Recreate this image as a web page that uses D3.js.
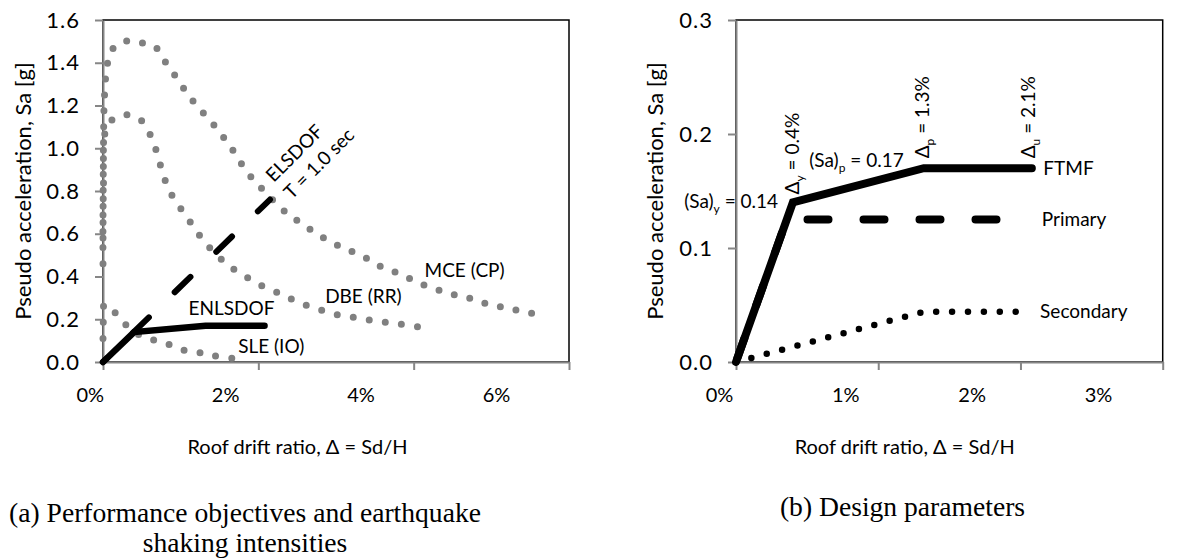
<!DOCTYPE html>
<html>
<head>
<meta charset="utf-8">
<script src="https://cdn.jsdelivr.net/npm/d3@7"></script>
<style>
body { margin: 0; background: #fff; }
svg text { font-family: Lato, "Open Sans", sans-serif; fill: #000; }
</style>
</head>
<body>
<div id="chart-area"></div>
<script>
// ---- Data (drift in %, Sa in g) ----
// (a) spectra
const mce = [[0, 0.58], [0.005, 0.95], [0.02, 1.25], [0.06, 1.40], [0.13, 1.467], [0.28, 1.50], [0.49, 1.494],
  [0.67, 1.475], [0.79, 1.41], [0.9, 1.355], [1.02, 1.29], [1.14, 1.23], [1.27, 1.174], [1.41, 1.117],
  [1.54, 1.057], [1.66, 0.997], [1.77, 0.934], [1.89, 0.873], [2.03, 0.817], [2.31, 0.714], [2.48, 0.667],
  [2.65, 0.625], [2.83, 0.583], [3.0, 0.55], [3.19, 0.519], [3.38, 0.488], [3.56, 0.45], [3.75, 0.423],
  [3.94, 0.392], [4.13, 0.36], [4.32, 0.337], [4.52, 0.315], [4.72, 0.298], [4.92, 0.274], [5.11, 0.259],
  [5.32, 0.243], [5.52, 0.228]];
const dbe = [[0, 0.46], [0.005, 0.8], [0.05, 1.1], [0.2, 1.151], [0.4, 1.151], [0.54, 1.112], [0.63, 1.043],
  [0.70, 0.973], [0.755, 0.90], [0.82, 0.831], [0.91, 0.766], [1.03, 0.703], [1.15, 0.641], [1.27, 0.579],
  [1.40, 0.524], [1.55, 0.472], [1.71, 0.427], [1.89, 0.388], [2.07, 0.352], [2.27, 0.321], [2.45, 0.29],
  [2.64, 0.262], [2.84, 0.239], [3.03, 0.22], [3.23, 0.209], [3.44, 0.196], [3.64, 0.186], [3.85, 0.176],
  [4.05, 0.165]];
const sle = [[0, 0.11], [0.005, 0.2], [0.02, 0.27], [0.155, 0.231], [0.30, 0.172], [0.45, 0.13], [0.65, 0.103],
  [0.84, 0.083], [1.03, 0.056], [1.24, 0.044], [1.42, 0.03], [1.66, 0.017]];
const elsdof = [[0, 0], [2.15, 0.76]];
const enlsdof = [[0, 0], [0.4, 0.14], [1.32, 0.17], [2.08, 0.17]];

// (b) design parameters
const ftmf = [[0, 0], [0.4, 0.14], [1.32, 0.17], [2.08, 0.17]];
const primary = [[0, 0], [0.357, 0.125], [2.0, 0.125]];
const secondary = [[0, 0], [1.32, 0.0441], [1.97, 0.0441]];

// ticks
const xTicksA = [0, 2, 4, 6];
const yTicksA = [0, 0.2, 0.4, 0.6, 0.8, 1.0, 1.2, 1.4, 1.6];
const xTicksB = [0, 1, 2, 3];
const yTicksB = [0, 0.1, 0.2, 0.3];

const svg = d3.select('#chart-area')
    .append('svg')
    .attr('width', 1189)
    .attr('height', 560);

// Scales
const xA = d3.scaleLinear().domain([0, 6]).range([103, 569]);
const yA = d3.scaleLinear().domain([0, 1.6]).range([362, 20]);
const xB = d3.scaleLinear().domain([0, 3]).range([736, 1162.7]);
const yB = d3.scaleLinear().domain([0, 0.3]).range([362, 20]);
// tick labels sit a bit off the ticks in the original figure
const labA = d3.scaleLinear().domain([0, 6]).range([89.7, 496]);
const labB = d3.scaleLinear().domain([0, 3]).range([719, 1098]);

const axisGray = '#868686';

function drawFrame(x, y, xTicks, yTicks, lab, xTitleX, yTitleX) {
    svg.append('rect')
        .attr('x', x.range()[0])
        .attr('y', y.range()[1])
        .attr('width', x.range()[1] - x.range()[0])
        .attr('height', y.range()[0] - y.range()[1])
        .attr('fill', 'none')
        .attr('stroke', '#000')
        .attr('stroke-width', 1.5);

    const gx = svg.append('g')
        .attr('transform', 'translate(0,' + y.range()[0] + ')')
        .call(d3.axisBottom(x).tickValues(xTicks).tickSizeInner(8).tickSizeOuter(0)
            .tickFormat(d => d + '%'));
    gx.selectAll('path, line').attr('stroke', axisGray).attr('stroke-width', 2);
    gx.selectAll('text')
        .attr('x', d => lab(d) - x(d))
        .attr('y', 40)
        .attr('dy', 0)
        .attr('fill', '#000')
        .style('font-size', '20px');

    const gy = svg.append('g')
        .attr('transform', 'translate(' + x.range()[0] + ',0)')
        .call(d3.axisLeft(y).tickValues(yTicks).tickSizeInner(8).tickSizeOuter(0).tickPadding(15)
            .tickFormat(d3.format('.1f')));
    gy.selectAll('path, line').attr('stroke', axisGray).attr('stroke-width', 2);
    gy.selectAll('text')
        .attr('fill', '#000')
        .style('font-size', '22px')
        .style('letter-spacing', '1px');

    // X Label
    svg.append('text')
        .attr('x', xTitleX)
        .attr('y', 454)
        .attr('text-anchor', 'middle')
        .style('font-size', '20px')
        .text('Roof drift ratio, \u0394 = Sd/H');

    // Y Label
    svg.append('text')
        .attr('transform', 'translate(' + yTitleX + ',191) rotate(-90)')
        .attr('text-anchor', 'middle')
        .style('font-size', '22px')
        .text('Pseudo acceleration, Sa [g]');
}

drawFrame(xA, yA, xTicksA, yTicksA, labA, 297.5, 31);
drawFrame(xB, yB, xTicksB, yTicksB, labB, 904.7, 663);

function drawLine(data, x, y, opts) {
    const line = d3.line()
        .x(d => x(d[0]))
        .y(d => y(d[1]))
        .curve(opts.curve || d3.curveLinear);
    const path = svg.append('path')
        .datum(data)
        .attr('d', line)
        .attr('fill', 'none')
        .attr('stroke', opts.color)
        .attr('stroke-width', opts.width)
        .attr('stroke-linecap', 'round')
        .attr('stroke-linejoin', opts.join || 'miter')
        .attr('stroke-dasharray', opts.dash || null)
        .attr('stroke-dashoffset', opts.offset || 0);
    if (opts.dotGap) {
        // round dots, spaced so that a dot lands near both ends
        const len = path.node().getTotalLength() - 0.5;
        const n = Math.max(1, Math.round(len / opts.dotGap));
        path.attr('stroke-dasharray', '0 ' + (len / n));
    }
}

// (a) spectra - gray round dots
const spectrumCurve = d3.curveCatmullRom.alpha(0.5);
[sle, dbe, mce].forEach(s => {
    drawLine(s, xA, yA, { color: '#808080', width: 7, dotGap: 16, curve: spectrumCurve });
});
drawLine(elsdof, xA, yA, { color: '#000', width: 6, dash: '22 36', offset: 16 });
drawLine(enlsdof, xA, yA, { color: '#000', width: 6.5 });

// (b)
drawLine(secondary, xB, yB, { color: '#000', width: 6.5, dotGap: 15.5 });
drawLine(ftmf, xB, yB, { color: '#000', width: 8 });
drawLine(primary, xB, yB, { color: '#000', width: 8, dash: '21 35', offset: 52 });

// Annotations
function note(x, y, px, py, txt, opts) {
    opts = opts || {};
    const t = svg.append('text')
        .attr('transform', 'translate(' + x(px) + ',' + y(py) + ')' + (opts.rotate ? ' rotate(' + opts.rotate + ')' : ''))
        .attr('text-anchor', opts.anchor || 'start')
        .style('font-size', (opts.size || 19) + 'px');
    if (Array.isArray(txt)) {
        // [main, sub, rest]
        t.append('tspan').text(txt[0]);
        t.append('tspan').attr('dy', 5).style('font-size', '12px').text(txt[1]);
        t.append('tspan').attr('dy', -5).text(txt[2]);
    } else {
        t.text(txt);
    }
}

note(xA, yA, 1.10, 0.22, 'ENLSDOF');
note(xA, yA, 1.74, 0.041, 'SLE (IO)');
note(xA, yA, 2.86, 0.275, 'DBE (RR)');
note(xA, yA, 4.14, 0.396, 'MCE (CP)');
note(xA, yA, 2.20, 0.837, 'ELSDOF', { rotate: -45 });
note(xA, yA, 2.43, 0.758, 'T = 1.0 sec', { rotate: -45 });

note(xB, yB, 0.296, 0.1348, ['(Sa)', 'y', ' = 0.14'], { anchor: 'end' });
note(xB, yB, 0.443, 0.147, ['\u0394', 'y', ' = 0.4%'], { rotate: -90 });
note(xB, yB, 0.515, 0.1713, ['(Sa)', 'p', ' = 0.17']);
note(xB, yB, 1.357, 0.1787, ['\u0394', 'p', ' = 1.3%'], { rotate: -90 });
note(xB, yB, 2.103, 0.1787, ['\u0394', 'u', ' = 2.1%'], { rotate: -90 });
note(xB, yB, 2.161, 0.164, 'FTMF');
note(xB, yB, 2.15, 0.1193, 'Primary');
note(xB, yB, 2.138, 0.0383, 'Secondary');

// Captions
const captionFont = '"Liberation Serif", "Times New Roman", serif';
svg.append('text')
    .attr('x', 245).attr('y', 522)
    .attr('text-anchor', 'middle')
    .style('font-family', captionFont).style('font-size', '27.6px')
    .text('(a) Performance objectives and earthquake');
svg.append('text')
    .attr('x', 245).attr('y', 552)
    .attr('text-anchor', 'middle')
    .style('font-family', captionFont).style('font-size', '27.6px')
    .text('shaking intensities');
svg.append('text')
    .attr('x', 902.5).attr('y', 516)
    .attr('text-anchor', 'middle')
    .style('font-family', captionFont).style('font-size', '27.6px')
    .text('(b) Design parameters');
</script>
</body>
</html>
